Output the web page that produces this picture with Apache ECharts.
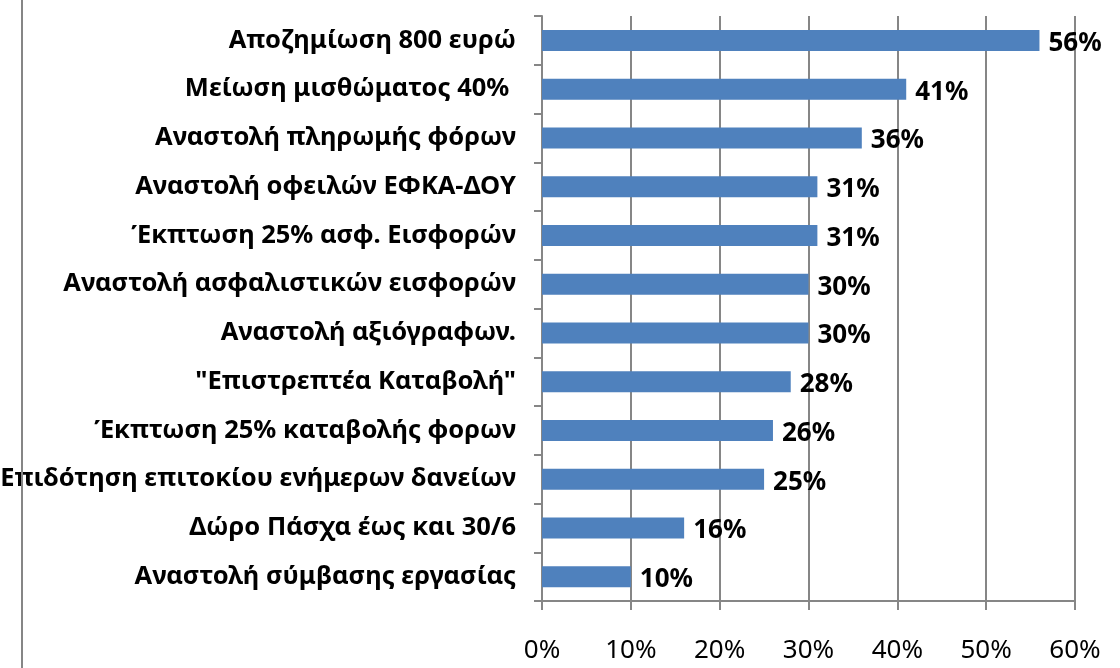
<!DOCTYPE html>
<html>
<head>
<meta charset="utf-8">
<script src="https://cdn.jsdelivr.net/npm/echarts@6/dist/echarts.min.js"></script>
<style>
	html, body { margin: 0; padding: 0; background: #fff; }
	#chart { width: 1120px; height: 668px; }
</style>
</head>
<body>
<div id="chart"></div>
<script>
	// κατηγορίες μέτρων (από πάνω προς τα κάτω)
	var categories = [
		'Αποζημίωση 800 ευρώ',
		'Μείωση μισθώματος 40% ',
		'Αναστολή πληρωμής φόρων',
		'Αναστολή οφειλών ΕΦΚΑ-ΔΟΥ',
		'Έκπτωση 25% ασφ. Εισφορών',
		'Αναστολή ασφαλιστικών εισφορών',
		'Αναστολή αξιόγραφων.',
		'"Επιστρεπτέα Καταβολή"',
		'Έκπτωση 25% καταβολής φορων',
		'Επιδότηση επιτοκίου ενήμερων δανείων',
		'Δώρο Πάσχα έως και 30/6',
		'Αναστολή σύμβασης εργασίας'
	]
	var values = [56, 41, 36, 31, 31, 30, 30, 28, 26, 25, 16, 10]
	var xTicks = [0, 10, 20, 30, 40, 50, 60]

	var chart = echarts.init(document.getElementById('chart'))
	var font = '"Noto Sans", "Open Sans", sans-serif'
	var gray = '#868686'

	var option = {
		animation: false,
		grid: { left: 542, right: 45, top: 16, bottom: 67, outerBoundsMode: 'none' },
		xAxis: {
			type: 'value',
			min: xTicks[0],
			max: xTicks[xTicks.length - 1],
			interval: 10,
			axisLine: { show: true, lineStyle: { color: gray, width: 2 } },
			axisTick: { show: true, length: 9, lineStyle: { color: gray, width: 2 } },
			splitLine: { show: true, lineStyle: { color: gray, width: 2 } },
			axisLabel: {
				formatter: '{value}%',
				margin: 37,
				fontFamily: font,
				fontSize: 26,
				color: '#000'
			}
		},
		yAxis: {
			type: 'category',
			inverse: true,
			data: categories,
			axisLine: { show: true, lineStyle: { color: gray, width: 2 } },
			axisTick: { show: true, length: 8, lineStyle: { color: gray, width: 2 } },
			axisLabel: {
				margin: 26,
				fontFamily: font,
				fontSize: 25.5,
				fontWeight: 'bold',
				color: '#000'
			}
		},
		series: [{
			type: 'bar',
			data: values,
			barWidth: 21,
			itemStyle: { color: '#4F81BD' },
			label: {
				show: true,
				position: 'right',
				distance: 9,
				offset: [0, 3],
				formatter: '{c}%',
				fontFamily: font,
				fontSize: 26,
				fontWeight: 'bold',
				color: '#000'
			}
		}],
		graphic: [{
			type: 'line',
			shape: { x1: 22, y1: 0, x2: 22, y2: 668 },
			style: { stroke: gray, lineWidth: 2 },
			z: 100
		}]
	}
	chart.setOption(option)
</script>
</body>
</html>
